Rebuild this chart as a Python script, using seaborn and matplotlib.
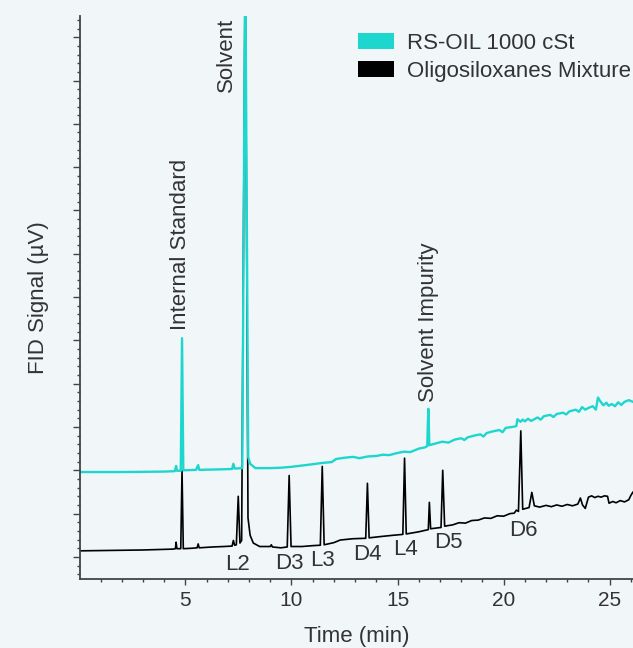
import numpy as np
import pandas as pd
import seaborn as sns
import matplotlib.pyplot as plt
from matplotlib.patches import Patch
from matplotlib.ticker import MultipleLocator, NullFormatter

# traces (time in min, signal in arbitrary offset units)
cyan_time = [0.0, 2.0, 4.0, 4.5, 4.56, 4.6, 4.78, 4.84, 4.9, 5.5, 5.6, 5.65, 6.5, 7.2, 7.26, 7.32,
             7.68, 7.82, 7.96, 8.05, 8.3, 9.0, 9.5, 10.0, 10.5, 11.0, 11.45, 11.9, 12.1, 12.5, 12.9,
             13.2, 13.6, 14.0, 14.3, 14.6, 15.0, 15.3, 15.6, 16.0, 16.3, 16.4, 16.45, 16.5, 16.8,
             17.1, 17.4, 17.7, 18.0, 18.15, 18.3, 18.6, 18.9, 19.05, 19.2, 19.5, 19.8, 19.95, 20.1,
             20.4, 20.6, 20.65, 20.8, 20.9, 21.0, 21.15, 21.3, 21.6, 21.75, 21.9, 22.2, 22.35, 22.5,
             22.8, 22.95, 23.1, 23.4, 23.55, 23.7, 23.85, 24.0, 24.2, 24.35, 24.45, 24.55, 24.7,
             24.85, 24.95, 25.1, 25.25, 25.4, 25.55, 25.7, 25.9, 26.1]
cyan_signal = [1.96, 1.96, 1.97, 1.98, 2.1, 1.99, 1.99, 5.05, 2.0, 2.01, 2.12, 2.01, 2.02, 2.03, 2.15, 2.04,
               2.05, 14.0, 2.3, 2.15, 2.05, 2.05, 2.06, 2.08, 2.11, 2.14, 2.17, 2.19, 2.26, 2.29, 2.31,
               2.28, 2.32, 2.33, 2.36, 2.35, 2.40, 2.43, 2.42, 2.50, 2.53, 2.56, 3.42, 2.58, 2.62,
               2.66, 2.64, 2.71, 2.74, 2.70, 2.76, 2.80, 2.83, 2.78, 2.86, 2.90, 2.93, 2.88, 2.98,
               3.00, 3.02, 3.18, 3.12, 3.17, 3.13, 3.19, 3.14, 3.22, 3.17, 3.25, 3.28, 3.23, 3.30,
               3.33, 3.29, 3.36, 3.40, 3.35, 3.46, 3.40, 3.44, 3.48, 3.40, 3.68, 3.60, 3.50,
               3.56, 3.49, 3.53, 3.48, 3.57, 3.51, 3.58, 3.62, 3.58]

black_time = [0.0, 1.5, 3.0, 4.4, 4.53, 4.56, 4.6, 4.78, 4.84, 4.9, 5.3, 5.55, 5.6, 5.65, 6.3, 6.8,
              7.2, 7.26, 7.32, 7.4, 7.49, 7.57, 7.65, 7.82, 7.95, 8.05, 8.2, 8.5, 9.0, 9.05, 9.1,
              9.5, 9.8, 9.89, 9.98, 10.5, 11.0, 11.36, 11.45, 11.54, 12.0, 12.3, 12.9, 13.5, 13.58,
              13.66, 14.2, 14.8, 15.25, 15.33, 15.41, 16.0, 16.45, 16.5, 16.56, 17.05, 17.13, 17.22,
              17.6, 17.9, 18.2, 18.5, 18.8, 19.1, 19.4, 19.7, 20.0, 20.3, 20.5, 20.6, 20.7, 20.81,
              20.9, 21.2, 21.33, 21.45, 21.7, 22.0, 22.25, 22.5, 22.75, 23.0, 23.25, 23.5, 23.62,
              23.72, 23.85, 24.0, 24.15, 24.3, 24.45, 24.6, 24.75, 24.9, 24.97, 25.15, 25.3, 25.5,
              25.7, 25.9, 26.0, 26.1]
black_signal = [0.14, 0.15, 0.16, 0.18, 0.19, 0.34, 0.19, 0.19, 2.0, 0.19, 0.20, 0.21, 0.30, 0.21, 0.23, 0.24,
                0.25, 0.38, 0.27, 0.28, 1.40, 0.32, 0.38, 14.0, 0.9, 0.5, 0.32, 0.24, 0.24, 0.28, 0.23,
                0.21, 0.23, 1.88, 0.24, 0.24, 0.26, 0.27, 2.09, 0.28, 0.33, 0.39, 0.42, 0.43, 1.70,
                0.44, 0.47, 0.50, 0.52, 2.28, 0.53, 0.58, 0.63, 1.26, 0.65, 0.68, 2.0, 0.71,
                0.74, 0.79, 0.78, 0.84, 0.85, 0.90, 0.89, 0.95, 0.94, 1.00, 1.01, 1.08, 1.05, 2.91,
                1.10, 1.14, 1.49, 1.18, 1.15, 1.19, 1.16, 1.20, 1.17, 1.21, 1.18, 1.22, 1.36,
                1.20, 1.12, 1.38, 1.41, 1.37, 1.40, 1.38, 1.41, 1.40, 1.24, 1.28, 1.25, 1.30,
                1.27, 1.32, 1.42, 1.50]

series_names = ['RS-OIL 1000 cSt', 'Oligosiloxanes Mixture']
series_colors = ['#1dd7cf', '#000000']

peak_names = ['L2', 'D3', 'L3', 'D4', 'L4', 'D5', 'D6']
peak_label_t = [7.44, 9.89, 11.45, 13.58, 15.37, 17.39, 20.94]
peak_label_y = [-0.18, -0.15, -0.09, 0.05, 0.17, 0.33, 0.61]

df = pd.concat([
    pd.DataFrame({'Time': black_time, 'Signal': black_signal, 'Sample': series_names[1]}),
    pd.DataFrame({'Time': cyan_time, 'Signal': cyan_signal, 'Sample': series_names[0]}),
])

bg = '#f1f6f9'
txt = '#333333'
sns.set_style('ticks')
plt.rcParams['font.family'] = ['Liberation Sans', 'DejaVu Sans']

fig = plt.figure(figsize=(6.33, 6.48), dpi=100, facecolor=bg)
ax = fig.add_axes([80 / 633, 1 - 579 / 648, 553 / 633, 563 / 648])
ax.set_facecolor(bg)

sns.lineplot(data=df[df['Sample'] == series_names[1]], x='Time', y='Signal', color=series_colors[1],
             linewidth=1.2, estimator=None, sort=False, ax=ax, legend=False)
sns.lineplot(data=df[df['Sample'] == series_names[0]], x='Time', y='Signal', color=series_colors[0],
             linewidth=1.7, estimator=None, sort=False, ax=ax, legend=False)

ax.set_xlim(0.03, 26.1)
ax.set_ylim(-0.51, 12.49)
ax.xaxis.set_major_locator(MultipleLocator(5))
ax.xaxis.set_minor_locator(MultipleLocator(1))
ax.yaxis.set_major_locator(MultipleLocator(1))
ax.yaxis.set_minor_locator(MultipleLocator(0.2))
ax.yaxis.set_major_formatter(NullFormatter())
ax.tick_params(axis='x', which='major', length=4, width=1, colors='#444444', labelcolor=txt,
               labelsize=15, pad=5)
ax.tick_params(axis='x', which='minor', length=2.2, width=1, colors='#444444')
ax.tick_params(axis='y', which='major', length=5, width=1, colors='#444444')
ax.tick_params(axis='y', which='minor', length=2.5, width=1, colors='#444444')
for s in ['top', 'right']:
    ax.spines[s].set_visible(False)
for s in ['left', 'bottom']:
    ax.spines[s].set_color('#444444')
    ax.spines[s].set_linewidth(1.3)

ax.set_xlabel('Time (min)', fontsize=16, color=txt, labelpad=11)
ax.set_ylabel('FID Signal (µV)', fontsize=16, color=txt, labelpad=14)

for name, t, y in zip(peak_names, peak_label_t, peak_label_y):
    ax.text(t, y, name, fontsize=16, color=txt, ha='center', va='center')

ax.text(4.75, 5.24, 'Internal Standard', rotation=90, fontsize=16, color=txt, ha='center', va='bottom')
ax.text(6.95, 10.74, 'Solvent', rotation=90, fontsize=16, color=txt, ha='center', va='bottom')
ax.text(16.48, 3.58, 'Solvent Impurity', rotation=90, fontsize=16, color=txt, ha='center', va='bottom')

handles = [Patch(facecolor=c, edgecolor='none') for c in series_colors]
fig.legend(handles, series_names, loc='upper left', bbox_to_anchor=(358 / 633, 1 - 33 / 648),
           frameon=False, fontsize=16, handlelength=1.6, handleheight=0.7, handletextpad=0.6,
           labelspacing=0.3, borderpad=0, borderaxespad=0, labelcolor=txt)

fig.savefig('out.png', dpi=100, facecolor=bg)
